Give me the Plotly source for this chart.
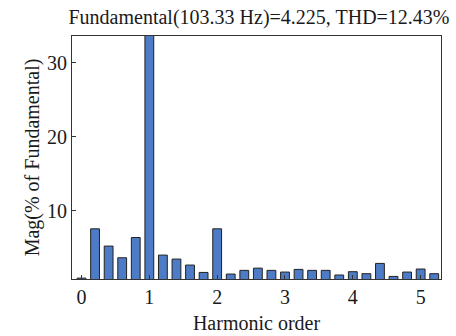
import plotly.graph_objects as go

harmonic_order = [0.0, 0.2, 0.4, 0.6, 0.8, 1.0, 1.2, 1.4, 1.6, 1.8, 2.0, 2.2, 2.4, 2.6,
                  2.8, 3.0, 3.2, 3.4, 3.6, 3.8, 4.0, 4.2, 4.4, 4.6, 4.8, 5.0, 5.2]
magnitude = [0.85, 7.53, 5.19, 3.61, 6.35, 100.0, 3.97, 3.43, 2.62, 1.62, 7.53, 1.4, 1.9, 2.2,
             1.9, 1.67, 2.03, 1.9, 1.9, 1.27, 1.72, 1.45, 2.84, 1.08, 1.67, 2.08, 1.45]
x_ticks = [0, 1, 2, 3, 4, 5]
y_ticks = [0, 10, 20, 30]
title_text = "Fundamental(103.33 Hz)=4.225, THD=12.43%"

font = "Liberation Serif, Times New Roman, serif"
txt = "#1a1a1a"

fig = go.Figure(go.Bar(
    x=harmonic_order, y=magnitude, width=0.13,
    marker=dict(color="#4d7bc6", line=dict(color="#222", width=1)),
))

fig.update_layout(
    width=456, height=336,
    margin=dict(l=72, r=15, t=36, b=57),
    paper_bgcolor="white", plot_bgcolor="white",
    showlegend=False,
    font=dict(family=font, size=20, color=txt),
    title=dict(text=title_text, x=0.568, xanchor="center", y=0.949, yanchor="middle",
               font=dict(family=font, size=20, color=txt)),
)
fig.update_xaxes(
    range=[-0.14, 5.3], tickvals=x_ticks, ticks="inside", ticklen=4, tickcolor="#333",
    showline=True, linecolor="#333", linewidth=1, mirror=True, showgrid=False, zeroline=False,
    automargin=False,
    title=dict(text="Harmonic order", standoff=8, font=dict(family=font, size=20, color=txt)),
    tickfont=dict(family=font, size=20, color=txt),
)
fig.update_yaxes(
    range=[0.73, 33.65], tickvals=y_ticks, ticks="inside", ticklen=4, tickcolor="#333",
    showline=True, linecolor="#333", linewidth=1, mirror=True, showgrid=False, zeroline=False,
    automargin=False,
    title=dict(text="Mag(% of Fundamental)", standoff=2, font=dict(family=font, size=20, color=txt)),
    tickfont=dict(family=font, size=20, color=txt),
)

fig.write_html("out.html")
